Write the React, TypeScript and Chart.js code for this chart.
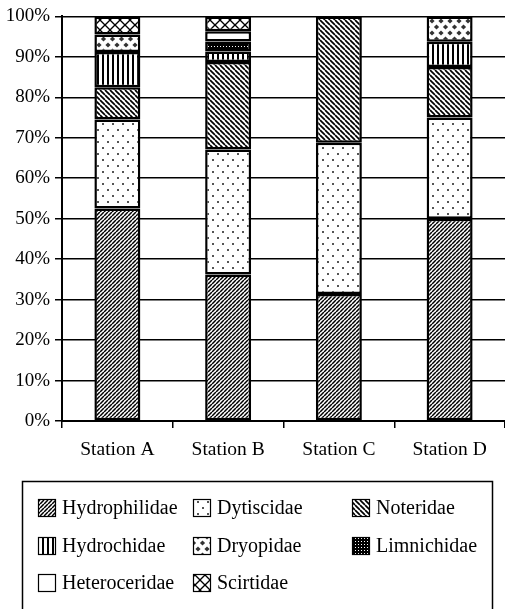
import React, { useEffect, useRef } from "react";
import { Chart, registerables } from "chart.js";

Chart.register(...registerables);

const categories = ["Station A", "Station B", "Station C", "Station D"];
const seriesNames = [
  "Hydrophilidae",
  "Dytiscidae",
  "Noteridae",
  "Hydrochidae",
  "Dryopidae",
  "Limnichidae",
  "Heteroceridae",
  "Scirtidae",
];
const hydrophilidae = [52.5, 36.2, 31.4, 50];
const dytiscidae = [22, 30.9, 37.4, 25];
const noteridae = [8, 21.6, 31.2, 12.5];
const hydrochidae = [8.7, 2.6, null, 6.25];
const dryopidae = [4.3, null, null, 6.25];
const limnichidae = [null, 2.5, null, null];
const heteroceridae = [null, 2.5, null, null];
const scirtidae = [4.5, 3.7, null, null];
const seriesValues = [
  hydrophilidae,
  dytiscidae,
  noteridae,
  hydrochidae,
  dryopidae,
  limnichidae,
  heteroceridae,
  scirtidae,
];
const yTickStep = 10;

const FONT = "'Liberation Serif', 'Times New Roman', serif";

function makePattern(kind: string): CanvasPattern | string {
  const c = document.createElement("canvas");
  let w = 8;
  let h = 8;
  if (kind === "Hydrophilidae") { w = 4; h = 4; }
  if (kind === "Noteridae") { w = 5; h = 5; }
  if (kind === "Hydrochidae") { w = 5; h = 5; }
  if (kind === "Dytiscidae") { w = 10; h = 12; }
  if (kind === "Dryopidae") { w = 9; h = 12; }
  if (kind === "Limnichidae") { w = 3; h = 3; }
  if (kind === "Scirtidae") { w = 10; h = 10; }
  c.width = w;
  c.height = h;
  const g = c.getContext("2d")!;
  g.fillStyle = "#fff";
  g.fillRect(0, 0, w, h);
  g.strokeStyle = "#000";
  g.fillStyle = "#000";
  if (kind === "Hydrophilidae") {
    g.lineWidth = 1.5;
    for (const o of [-w, 0, w]) {
      g.beginPath();
      g.moveTo(o, h);
      g.lineTo(o + w, 0);
      g.stroke();
    }
  } else if (kind === "Noteridae") {
    g.lineWidth = 1.7;
    for (const o of [-w, 0, w]) {
      g.beginPath();
      g.moveTo(o, 0);
      g.lineTo(o + w, h);
      g.stroke();
    }
  } else if (kind === "Hydrochidae") {
    g.fillRect(2, 0, 2, h);
  } else if (kind === "Dytiscidae") {
    g.fillStyle = "#555";
    g.fillRect(2, 3, 2, 2);
    g.fillRect(7, 9, 2, 2);
  } else if (kind === "Dryopidae") {
    g.fillStyle = "#333";
    const diamond = (cx: number, cy: number, r: number) => {
      g.beginPath();
      g.moveTo(cx, cy - r);
      g.lineTo(cx + r, cy);
      g.lineTo(cx, cy + r);
      g.lineTo(cx - r, cy);
      g.closePath();
      g.fill();
    };
    diamond(4.5, 3, 2.6);
    diamond(0, 9, 2.6);
    diamond(9, 9, 2.6);
  } else if (kind === "Limnichidae") {
    g.fillRect(0, 0, w, h);
    g.fillStyle = "#fff";
    g.fillRect(1, 1, 1, 1);
  } else if (kind === "Scirtidae") {
    g.lineWidth = 1.3;
    for (const o of [-w, 0, w]) {
      g.beginPath();
      g.moveTo(o, h);
      g.lineTo(o + w, 0);
      g.stroke();
      g.beginPath();
      g.moveTo(o, 0);
      g.lineTo(o + w, h);
      g.stroke();
    }
  } else {
    return "#fff";
  }
  return g.createPattern(c, "repeat")!;
}

export default function App() {
  const ref = useRef<HTMLCanvasElement | null>(null);

  useEffect(() => {
    document.body.style.margin = "0";
    const canvas = ref.current!;
    const fills = seriesNames.map((n) => makePattern(n));

    const legendPlugin = {
      id: "boxLegend",
      afterDraw(chart: any) {
        const ctx = chart.ctx as CanvasRenderingContext2D;
        ctx.save();
        ctx.strokeStyle = "#000";
        ctx.lineWidth = 1.5;
        ctx.strokeRect(22.5, 481.5, 470, 160);
        const colX = [38, 193, 352];
        const rowY = [508, 546, 583];
        ctx.font = `20px ${FONT}`;
        ctx.textBaseline = "middle";
        ctx.textAlign = "left";
        seriesNames.forEach((name, i) => {
          const x = colX[i % 3];
          const y = rowY[Math.floor(i / 3)];
          const sw = 18;
          ctx.fillStyle = fills[i] as any;
          ctx.fillRect(x, y - sw / 2, sw, sw);
          ctx.lineWidth = 1.2;
          ctx.strokeStyle = "#000";
          ctx.strokeRect(x + 0.5, y - sw / 2 + 0.5, sw - 1, sw - 1);
          ctx.fillStyle = "#000";
          ctx.fillText(name, x + 24, y + 1);
        });
        ctx.restore();
      },
    };

    const chart = new Chart(canvas, {
      type: "bar",
      data: {
        labels: categories,
        datasets: seriesNames.map((name, i) => ({
          label: name,
          data: seriesValues[i] as any,
          backgroundColor: fills[i] as any,
          borderColor: "#000",
          borderWidth: 2.5,
          borderSkipped: false,
          categoryPercentage: 1,
          barPercentage: 0.415,
        })),
      },
      options: {
        responsive: false,
        animation: false,
        devicePixelRatio: 1,
        layout: { padding: { top: 14, left: 0, right: 0, bottom: 0 } },
        font: { family: FONT },
        plugins: {
          legend: { display: false },
          tooltip: { enabled: false },
        },
        scales: {
          x: {
            stacked: true,
            grid: {
              display: true,
              drawOnChartArea: false,
              drawTicks: true,
              tickLength: 7,
              color: "#000",
              lineWidth: 1.5,
              offset: true,
            },
            border: { display: true, color: "#000", width: 2 },
            ticks: {
              color: "#000",
              font: { family: FONT, size: 19.5 },
              padding: 10,
              maxRotation: 0,
            },
            afterFit: (s: any) => {
              s.height = 188;
            },
          },
          y: {
            stacked: true,
            min: 0,
            max: 100,
            ticks: {
              stepSize: yTickStep,
              callback: (v: any) => `${v}%`,
              color: "#000",
              font: { family: FONT, size: 19 },
              padding: 5,
            },
            grid: { color: "#000", lineWidth: 1.5, tickLength: 7 },
            border: { display: true, color: "#000", width: 2 },
            afterFit: (s: any) => {
              s.width = 62;
            },
          },
        },
      },
      plugins: [legendPlugin],
    });
    return () => chart.destroy();
  }, []);

  return (
    <div style={{ width: 505, height: 609 }}>
      <canvas ref={ref} width={505} height={609} style={{ display: "block" }} />
    </div>
  );
}
